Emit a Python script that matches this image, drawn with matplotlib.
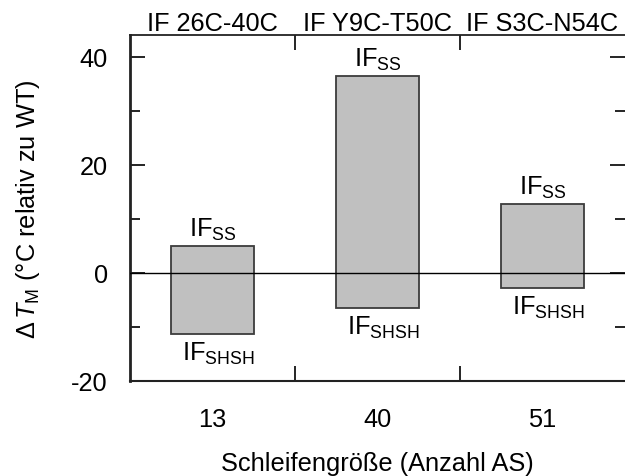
import matplotlib
matplotlib.use("Agg")
import matplotlib.pyplot as plt
from matplotlib.ticker import FixedLocator

plt.rcParams["font.family"] = ["Liberation Sans", "DejaVu Sans"]
plt.rcParams["mathtext.fontset"] = "custom"
plt.rcParams["mathtext.rm"] = "Liberation Sans"
plt.rcParams["mathtext.it"] = "Liberation Sans:italic"
plt.rcParams["mathtext.bf"] = "Liberation Sans:bold"

# Loop sizes, variant names and the ΔTm range spanned by each variant
loop_sizes = ["13", "40", "51"]
variants = ["IF 26C-40C", "IF Y9C-T50C", "IF S3C-N54C"]
dtm_ss = [5.0, 36.4, 12.7]        # disulfide form (upper end)
dtm_shsh = [-11.3, -6.5, -2.8]    # reduced form (lower end)
y_major = [-20, 0, 20, 40]
y_minor = [-10, 10, 30]

FS = 18.3

fig = plt.figure(figsize=(6.25, 4.77), dpi=100)
ax = fig.add_axes([130 / 625, 1 - 382 / 477, 495 / 625, (382 - 36) / 477])

x = list(range(len(loop_sizes)))
heights = [hi - lo for hi, lo in zip(dtm_ss, dtm_shsh)]
ax.bar(x, heights, bottom=dtm_shsh, width=0.5, color="#c0c0c0",
       edgecolor="#3c3c3c", linewidth=1.3, zorder=2)
ax.axhline(0, color="black", linewidth=1.0, zorder=3)

for xi, hi, lo in zip(x, dtm_ss, dtm_shsh):
    ax.annotate(r"$\mathrm{IF}_{\mathrm{SS}}$", (xi, hi), xytext=(0, 3),
                textcoords="offset points", ha="center", va="bottom",
                fontsize=FS)
    ax.annotate(r"$\mathrm{IF}_{\mathrm{SHSH}}$", (xi, lo), xytext=(4, -4),
                textcoords="offset points", ha="center", va="top",
                fontsize=FS)

for xi, name in zip(x, variants):
    ax.text(xi, 1.0, name, transform=ax.get_xaxis_transform(),
            ha="center", va="bottom", fontsize=FS)

ax.set_xlim(-0.5, len(x) - 0.5)
ax.set_ylim(-20, 44)

ax.set_xticks(x)
ax.set_xticklabels(loop_sizes, fontsize=FS)
ax.xaxis.set_minor_locator(FixedLocator([0.5, 1.5]))
ax.tick_params(axis="x", which="major", length=0, pad=19)
ax.tick_params(axis="x", which="minor", direction="in", length=11,
               width=1.2, top=True, bottom=True)

ax.set_yticks(y_major)
ax.set_yticklabels([str(v) for v in y_major], fontsize=FS)
ax.yaxis.set_minor_locator(FixedLocator(y_minor))
ax.tick_params(axis="y", which="major", direction="in", length=11,
               width=1.2, left=True, right=True, pad=16)
ax.tick_params(axis="y", which="minor", direction="in", length=7,
               width=1.2, left=True, right=True)

ax.spines["right"].set_visible(False)
ax.spines["left"].set_linewidth(2.0)
ax.spines["top"].set_linewidth(1.3)
ax.spines["bottom"].set_linewidth(1.5)
for s in ax.spines.values():
    s.set_color("#222222")

ax.set_xlabel("Schleifengröße (Anzahl AS)", fontsize=FS, labelpad=14)
fig.text(28 / 625, 1 - 209 / 477, r"$\Delta\,T_{\mathrm{M}}$ (°C relativ zu WT)",
         rotation=90, ha="center", va="center", fontsize=FS)

fig.savefig("out.png", dpi=100)
